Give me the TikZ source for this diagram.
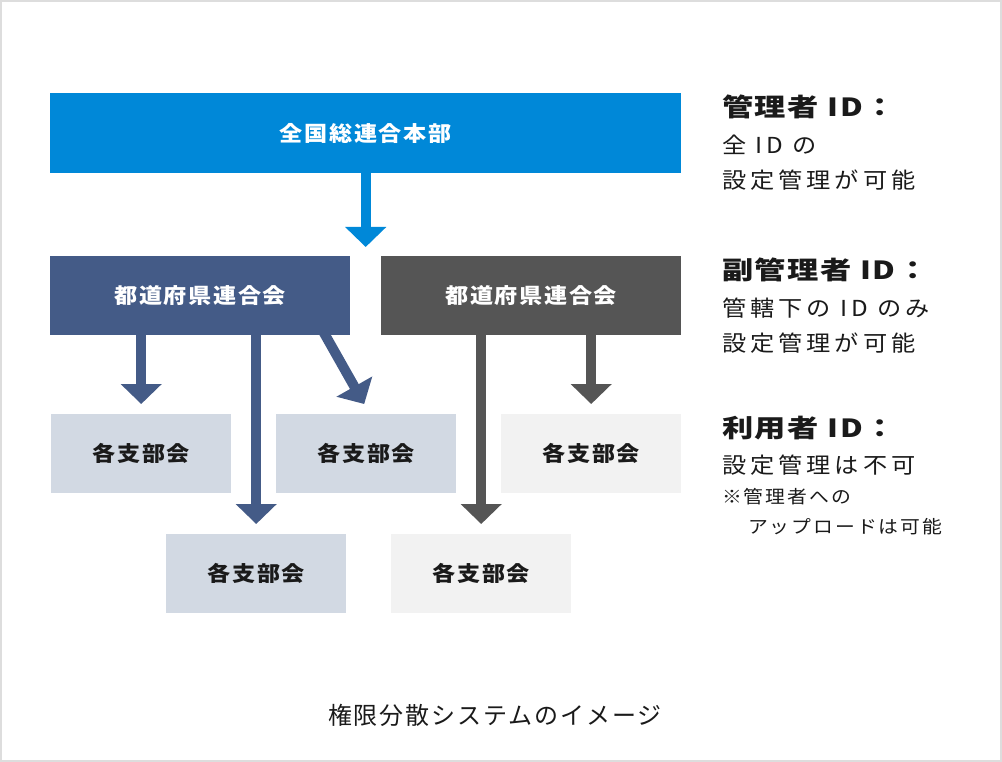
\documentclass[tikz,border=0pt]{standalone}
\usepackage{fontspec}
\setmainfont{Noto Sans CJK JP}
\newfontfamily\boxfont[LetterSpace=8,FakeStretch=1.1]{Noto Sans CJK JP}
\newfontfamily\headfont[LetterSpace=6,FakeStretch=1.25]{Noto Sans CJK JP}
\newfontfamily\sidefont[LetterSpace=18,FakeStretch=1.1]{Noto Sans CJK JP}
\newfontfamily\notefont[LetterSpace=11,FakeStretch=1.1]{Noto Sans CJK JP}
\newfontfamily\capfont[LetterSpace=8]{Noto Sans CJK JP}
\usetikzlibrary{arrows.meta,backgrounds}

\definecolor{topblue}{HTML}{0088D8}
\definecolor{prefnavy}{HTML}{445B87}
\definecolor{prefgray}{HTML}{555555}
\definecolor{branchnavy}{HTML}{D2D9E3}
\definecolor{branchgray}{HTML}{F2F2F2}
\definecolor{framegray}{HTML}{DDDDDD}
\definecolor{inkgray}{HTML}{1A1A1A}

\tikzset{
  orgbox/.style={rectangle, inner sep=0, anchor=north west,
    font=\boxfont\bfseries\fontsize{21}{25}\selectfont},
  prefbox/.style={orgbox, text=white, minimum width=300pt, minimum height=79pt},
  branchbox/.style={orgbox, text=inkgray, minimum width=180pt, minimum height=79pt},
  flowarr/.style={line width=10pt, -{Triangle[width=40pt,length=20pt]}},
  sidehead/.style={anchor=west, inner sep=0, text=inkgray,
    font=\headfont\bfseries\fontsize{25}{30}\selectfont},
  sidetext/.style={anchor=west, inner sep=0, text=inkgray,
    font=\sidefont\fontsize{22}{26}\selectfont},
  sidenote/.style={anchor=west, inner sep=0, text=inkgray,
    font=\notefont\fontsize{18}{22}\selectfont}
}

\begin{document}
\begin{tikzpicture}[x=1pt,y=-1pt]
\useasboundingbox (0,0) rectangle (1002,762);
\draw [framegray, line width=2pt] (1,1) rectangle (1001,761);

% organisation boxes
\node [orgbox, fill=topblue, text=white, minimum width=631pt, minimum height=80pt] (hq) at (50,93) {全国総連合本部};
\node [prefbox, fill=prefnavy] (prefa) at (50,256) {都道府県連合会};
\node [prefbox, fill=prefgray] (prefb) at (381,256) {都道府県連合会};
\node [branchbox, fill=branchnavy] (bra) at (51,414) {各支部会};
\node [branchbox, fill=branchnavy] (brb) at (276,414) {各支部会};
\node [branchbox, fill=branchgray] (brc) at (501,414) {各支部会};
\node [branchbox, fill=branchnavy] (brd) at (166,534) {各支部会};
\node [branchbox, fill=branchgray] (bre) at (391,534) {各支部会};

% arrows
\begin{scope}[on background layer]
\draw [flowarr, topblue] (hq.south) -- ([yshift=9pt]hq.south |- prefa.north);
\draw [flowarr, prefnavy] (prefa.south -| bra.north) -- ([yshift=10pt]bra.north);
\draw [flowarr, prefnavy] (prefa.south -| brd.north) -- ([yshift=10pt]brd.north);
\draw [flowarr, prefnavy, shorten <=-8pt] ([xshift=-25pt]prefa.south east) -- ([xshift=-2pt,yshift=10pt]brb.north);
\draw [flowarr, prefgray] (prefb.south -| bre.north) -- ([yshift=10pt]bre.north);
\draw [flowarr, prefgray] (prefb.south -| brc.north) -- ([yshift=10pt]brc.north);
\end{scope}

% legend
\foreach \y/\t in {107/管理者 ID：,270/副管理者 ID：,428/利用者 ID：}
  \node [sidehead] (head\y) at (722,\y) {\t};
\foreach \y/\t in {145/全 ID の,180/設定管理が可能,308/管轄下の ID のみ,343/設定管理が可能,465/設定管理は不可}
  \node [sidetext] (line\y) at (722,\y) {\t};
\node [sidenote] (notea) at (722,497) {※管理者への};
\node [sidenote] (noteb) at (748,527) {アップロードは可能};

\node [font=\capfont\fontsize{24}{28}\selectfont, text=inkgray] (caption) at (495,715) {権限分散システムのイメージ};
\end{tikzpicture}
\end{document}
